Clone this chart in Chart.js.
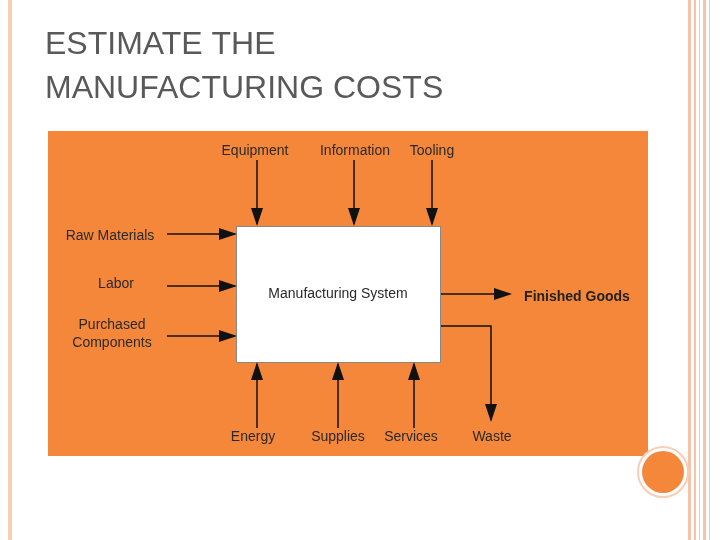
<!DOCTYPE html>
<html><head><meta charset="utf-8">
<script src="https://cdn.jsdelivr.net/npm/chart.js@4"></script>
<style>html,body{margin:0;padding:0;background:#fff;}#w{position:relative;width:720px;height:540px;}canvas{position:absolute;left:0;top:0;}</style>
</head><body><div id="w"><canvas id="c" width="720" height="540"></canvas></div>
<script>
const titleLines = ["ESTIMATE THE", "MANUFACTURING COSTS"];
const arrowPaths = [
  [[257,160],[257,224]], [[354,160],[354,224]], [[432,160],[432,224]],
  [[167,234],[235,234]], [[167,286],[235,286]], [[167,336],[235,336]],
  [[441,294],[510,294]], [[441,326],[491,326],[491,420]],
  [[257,428],[257,364]], [[338,428],[338,364]], [[414,428],[414,364]]
];
const labels = [
  ["Equipment",255,151,"center",false],["Information",355,151,"center",false],["Tooling",432,151,"center",false],
  ["Raw Materials",110,236,"center",false],["Labor",116,284,"center",false],
  ["Purchased",112,325,"center",false],["Components",112,343,"center",false],
  ["Manufacturing System",338,294,"center",false],["Finished Goods",577,297,"center",true],
  ["Energy",253,437,"center",false],["Supplies",338,437,"center",false],["Services",411,437,"center",false],["Waste",492,437,"center",false]
];
const panel = [48,131,648,456];
const box = [236,226,440,362];

const deco = {
  id:'deco',
  beforeDatasetsDraw(ch){
    const c=ch.ctx,x=ch.scales.x,y=ch.scales.y;
    const X=v=>x.getPixelForValue(v),Y=v=>y.getPixelForValue(v);
    c.save();
    c.fillStyle='#F9CDB6';c.fillRect(X(8),0,4,540);
    [[688,3],[694,2],[699,1],[703,3],[709,1]].forEach(([a,w])=>{c.fillStyle='#F7C4AA';c.fillRect(X(a),0,w,540);});
    c.fillStyle='#595959';c.font='32px "Liberation Sans"';c.textBaseline='middle';c.textAlign='left';
    titleLines.forEach((t,i)=>c.fillText(t,X(45),Y(45+i*44)));
    c.fillStyle='#F5873B';c.fillRect(X(panel[0]),Y(panel[1]),X(panel[2])-X(panel[0]),Y(panel[3])-Y(panel[1]));
    c.fillStyle='#fff';c.strokeStyle='#888';c.lineWidth=1;
    c.fillRect(X(box[0]),Y(box[1]),X(box[2])-X(box[0]),Y(box[3])-Y(box[1]));
    c.strokeRect(X(box[0])+.5,Y(box[1])+.5,X(box[2])-X(box[0]),Y(box[3])-Y(box[1]));
    c.beginPath();c.arc(X(663),Y(472),25,0,Math.PI*2);c.fillStyle='#fff';c.fill();
    c.strokeStyle='#F9CDB6';c.lineWidth=2;c.stroke();
    c.beginPath();c.arc(X(663),Y(472),21,0,Math.PI*2);c.fillStyle='#F5873B';c.fill();
    c.restore();
  },
  afterDatasetsDraw(ch){
    const c=ch.ctx,x=ch.scales.x,y=ch.scales.y;
    const X=v=>x.getPixelForValue(v),Y=v=>y.getPixelForValue(v);
    c.save();c.fillStyle='#111';
    arrowPaths.forEach(p=>{
      const a=p[p.length-2],b=p[p.length-1];
      const ang=Math.atan2(Y(b[1])-Y(a[1]),X(b[0])-X(a[0]));
      c.save();c.translate(X(b[0]),Y(b[1]));c.rotate(ang);
      c.beginPath();c.moveTo(2,0);c.lineTo(-16,-6);c.lineTo(-16,6);c.closePath();c.fill();c.restore();
    });
    c.textBaseline='middle';
    labels.forEach(([t,a,b,al,bold])=>{
      c.font=(bold?'bold ':'')+'14px "Liberation Sans"';c.textAlign=al;
      c.fillStyle=bold?'#222':'#2a2a2a';c.fillText(t,X(a),Y(b));
    });
    c.restore();
  }
};

new Chart(document.getElementById('c'),{
  type:'scatter',
  data:{datasets:arrowPaths.map(p=>({data:p.map(([a,b])=>({x:a,y:b})),showLine:true,borderColor:'#111',borderWidth:1.5,pointRadius:0,fill:false,tension:0}))},
  options:{responsive:false,animation:false,layout:{padding:0},
    plugins:{legend:{display:false},tooltip:{enabled:false}},
    scales:{x:{type:'linear',min:0,max:720,display:false},y:{type:'linear',min:0,max:540,reverse:true,display:false}}},
  plugins:[deco]
});
</script></body></html>
